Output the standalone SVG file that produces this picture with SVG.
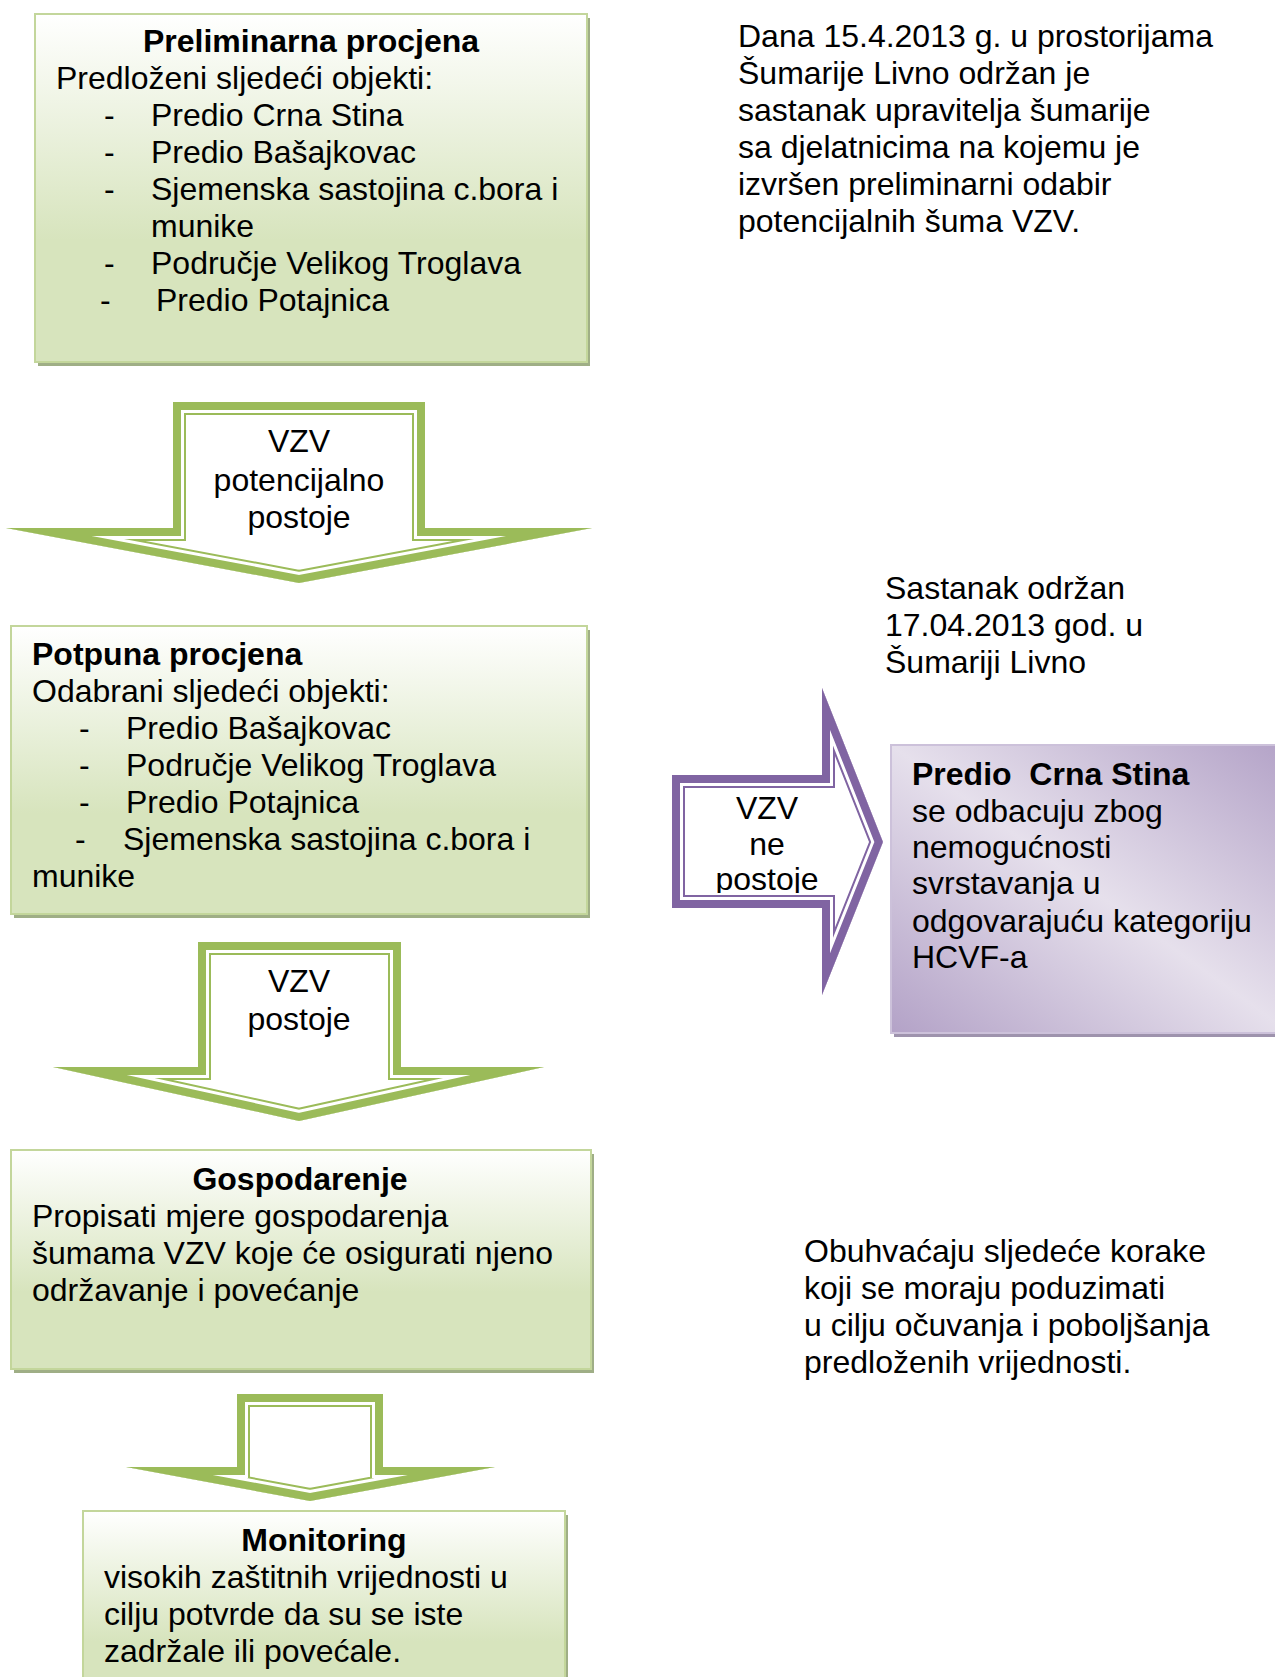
<svg xmlns="http://www.w3.org/2000/svg" width="1275" height="1677" viewBox="0 0 1275 1677">
<style>
.t{font-family:"Liberation Sans",Arial,sans-serif;font-size:32px;fill:#000}
.b{font-weight:bold}
.c{text-anchor:middle}
.gbox{fill:url(#gGreen);stroke:#c3d69b;stroke-width:2}
.gsh{fill:#9fae86}
.psh{fill:#9e93ad}
</style>
<defs>
<linearGradient id="gGreen" x1="0" y1="0" x2="0" y2="1">
<stop offset="0" stop-color="#ffffff"/>
<stop offset="0.65" stop-color="#d7e4bd"/>
<stop offset="1" stop-color="#d7e4bd"/>
</linearGradient>
<linearGradient id="gPurple" x1="1" y1="0" x2="0" y2="1">
<stop offset="0" stop-color="#b3a2c7"/>
<stop offset="0.5" stop-color="#e6e0ec"/>
<stop offset="1" stop-color="#b3a2c7"/>
</linearGradient>
<path id="a1" d="M173,402 H425 V528 H592 L299,583 L6,528 H173 Z"/>
<path id="a2" d="M198,942 H401 V1067 H544 L299,1121 L53,1067 H198 Z"/>
<path id="a3" d="M237,1394 H383 V1467 H495 L310,1501 L126,1467 H237 Z"/>
<path id="a4" d="M672,775 H822 V688 L883,842 L822,995 V908 H672 Z"/>
<clipPath id="c1"><use href="#a1"/></clipPath>
<clipPath id="c2"><use href="#a2"/></clipPath>
<clipPath id="c3"><use href="#a3"/></clipPath>
<clipPath id="c4"><use href="#a4"/></clipPath>
<clipPath id="ctext4"><rect x="672" y="700" width="160" height="193"/></clipPath>
</defs>

<g id="connectors" stroke-linejoin="miter" stroke-miterlimit="20">
<g id="arrow1" clip-path="url(#c1)">
<use href="#a1" fill="#fff"/>
<use href="#a1" fill="none" stroke="#9bbb59" stroke-width="26"/>
<use href="#a1" fill="none" stroke="#fff" stroke-width="22"/>
<use href="#a1" fill="none" stroke="#9bbb59" stroke-width="16"/>
</g>
<g id="arrow2" clip-path="url(#c2)">
<use href="#a2" fill="#fff"/>
<use href="#a2" fill="none" stroke="#9bbb59" stroke-width="26"/>
<use href="#a2" fill="none" stroke="#fff" stroke-width="22"/>
<use href="#a2" fill="none" stroke="#9bbb59" stroke-width="16"/>
</g>
<g id="arrow3" clip-path="url(#c3)">
<use href="#a3" fill="#fff"/>
<use href="#a3" fill="none" stroke="#9bbb59" stroke-width="26"/>
<use href="#a3" fill="none" stroke="#fff" stroke-width="22"/>
<use href="#a3" fill="none" stroke="#9bbb59" stroke-width="16"/>
</g>
<g id="arrow4" clip-path="url(#c4)">
<use href="#a4" fill="#fff"/>
<use href="#a4" fill="none" stroke="#8064a2" stroke-width="26"/>
<use href="#a4" fill="none" stroke="#fff" stroke-width="22"/>
<use href="#a4" fill="none" stroke="#8064a2" stroke-width="16"/>
</g>
<text class="t c" x="299" y="452">VZV</text>
<text class="t c" x="299" y="491">potencijalno</text>
<text class="t c" x="299" y="528">postoje</text>
<text class="t c" x="299" y="992">VZV</text>
<text class="t c" x="299" y="1030">postoje</text>
<g clip-path="url(#ctext4)">
<text class="t c" x="767" y="819">VZV</text>
<text class="t c" x="767" y="855">ne</text>
<text class="t c" x="767" y="890">postoje</text>
</g>
</g>

<g id="box1">
<rect class="gsh" x="38" y="18" width="552" height="348"/>
<rect class="gbox" x="35" y="14" width="552" height="348"/>
<text class="t b c" x="311" y="52">Preliminarna procjena</text>
<text class="t" x="56" y="89">Predloženi sljedeći objekti:</text>
<text class="t" x="104" y="126">-</text><text class="t" x="151" y="126">Predio Crna Stina</text>
<text class="t" x="104" y="163">-</text><text class="t" x="151" y="163">Predio Bašajkovac</text>
<text class="t" x="104" y="200">-</text><text class="t" x="151" y="200">Sjemenska sastojina c.bora i</text>
<text class="t" x="151" y="237">munike</text>
<text class="t" x="104" y="274">-</text><text class="t" x="151" y="274">Područje Velikog Troglava</text>
<text class="t" x="100" y="311">-</text><text class="t" x="156" y="311">Predio Potajnica</text>
</g>

<g id="box2">
<rect class="gsh" x="14" y="630" width="576" height="288"/>
<rect class="gbox" x="11" y="626" width="576" height="288"/>
<text class="t b" x="32" y="665">Potpuna procjena</text>
<text class="t" x="32" y="702">Odabrani sljedeći objekti:</text>
<text class="t" x="79" y="739">-</text><text class="t" x="126" y="739">Predio Bašajkovac</text>
<text class="t" x="79" y="776">-</text><text class="t" x="126" y="776">Područje Velikog Troglava</text>
<text class="t" x="79" y="813">-</text><text class="t" x="126" y="813">Predio Potajnica</text>
<text class="t" x="75" y="850">-</text><text class="t" x="123" y="850">Sjemenska sastojina c.bora i</text>
<text class="t" x="32" y="887">munike</text>
</g>

<g id="box3">
<rect class="gsh" x="14" y="1154" width="580" height="219"/>
<rect class="gbox" x="11" y="1150" width="580" height="219"/>
<text class="t b c" x="300" y="1190">Gospodarenje</text>
<text class="t" x="32" y="1227">Propisati mjere gospodarenja</text>
<text class="t" x="32" y="1264">šumama VZV koje će osigurati njeno</text>
<text class="t" x="32" y="1301">održavanje i povećanje</text>
</g>

<g id="box4">
<rect class="gsh" x="86" y="1515" width="482" height="200"/>
<rect class="gbox" x="83" y="1511" width="482" height="200"/>
<text class="t b c" x="324" y="1551">Monitoring</text>
<text class="t" x="104" y="1588">visokih zaštitnih vrijednosti u</text>
<text class="t" x="104" y="1625">cilju potvrde da su se iste</text>
<text class="t" x="104" y="1662">zadržale ili povećale.</text>
</g>

<g id="box5">
<rect class="psh" x="894" y="749" width="400" height="288"/>
<rect x="891" y="745" width="400" height="288" fill="url(#gPurple)" stroke="#ccc1da" stroke-width="2"/>
<text class="t b" x="912" y="785" xml:space="preserve">Predio  Crna Stina</text>
<text class="t" x="912" y="822">se odbacuju zbog</text>
<text class="t" x="912" y="858">nemogućnosti</text>
<text class="t" x="912" y="894">svrstavanja u</text>
<text class="t" x="912" y="932">odgovarajuću kategoriju</text>
<text class="t" x="912" y="968">HCVF-a</text>
</g>

<g id="note1">
<text class="t" x="738" y="47">Dana 15.4.2013 g. u prostorijama</text>
<text class="t" x="738" y="84">Šumarije Livno održan je</text>
<text class="t" x="738" y="121">sastanak upravitelja šumarije</text>
<text class="t" x="738" y="158">sa djelatnicima na kojemu je</text>
<text class="t" x="738" y="195">izvršen preliminarni odabir</text>
<text class="t" x="738" y="232">potencijalnih šuma VZV.</text>
</g>

<g id="note2">
<text class="t" x="885" y="599">Sastanak održan</text>
<text class="t" x="885" y="636">17.04.2013 god. u</text>
<text class="t" x="885" y="673">Šumariji Livno</text>
</g>

<g id="note3">
<text class="t" x="804" y="1262">Obuhvaćaju sljedeće korake</text>
<text class="t" x="804" y="1299">koji se moraju poduzimati</text>
<text class="t" x="804" y="1336">u cilju očuvanja i poboljšanja</text>
<text class="t" x="804" y="1373">predloženih vrijednosti.</text>
</g>
</svg>
